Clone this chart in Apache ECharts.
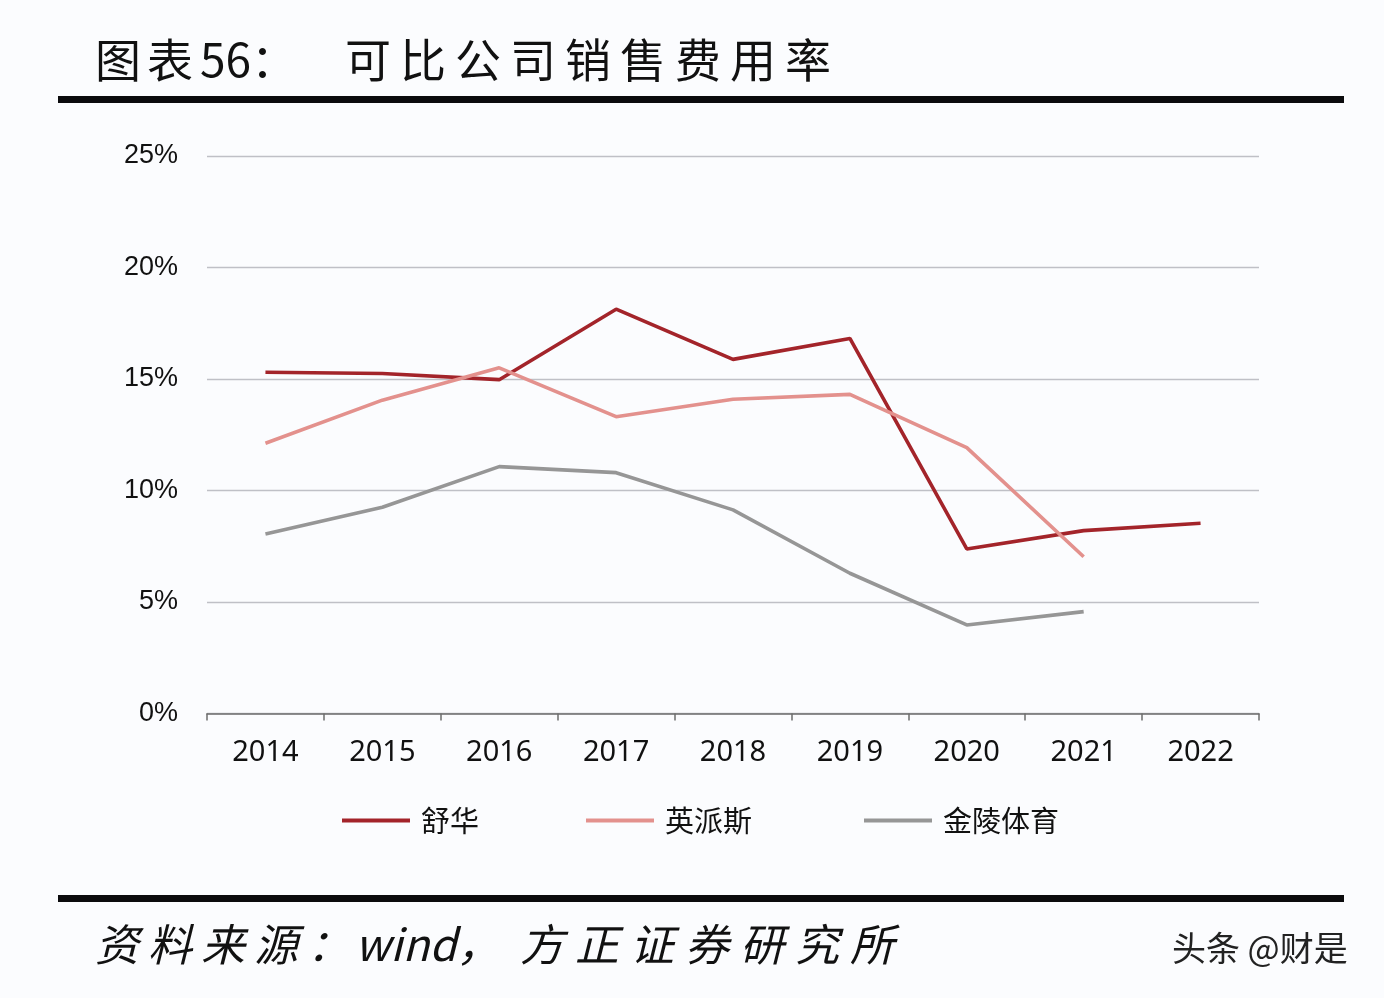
<!DOCTYPE html>
<html><head><meta charset="utf-8">
<script src="https://cdn.jsdelivr.net/npm/echarts@6/dist/echarts.min.js"></script>
<style>html,body{margin:0;padding:0;background:#fbfcfe;}#c{width:1384px;height:998px;}</style>
</head><body><div id="c"></div>
<script>
const categories = ['2014','2015','2016','2017','2018','2019','2020','2021','2022'];
const shuhua = [15.3, 15.25, 14.97, 18.13, 15.88, 16.82, 7.38, 8.2, 8.53];
const yingpaisi = [12.12, 14.05, 15.5, 13.31, 14.09, 14.31, 11.92, 7.03, null];
const jinling = [8.05, 9.25, 11.07, 10.8, 9.13, 6.29, 3.97, 4.57, null];
const yTicks = [0, 5, 10, 15, 20, 25];
const seriesNames = ['舒华', '英派斯', '金陵体育'];
const colors = ['#a3242a', '#e3918d', '#969696'];

const chart = echarts.init(document.getElementById('c'));
const cjk = '"Noto Sans CJK SC", sans-serif';
function mkLegend(i, left) {
  return {
    data: [seriesNames[i]], left: left, top: 806, padding: 0, icon: 'rect',
    itemWidth: 68, itemHeight: 4, itemGap: 0,
    textStyle: { fontFamily: cjk, fontSize: 29, color: '#111', padding: [0,0,0,6] }
  };
}
// spaced text helper: places characters one by one with a fixed pitch
function spaced(str, x, y, pitch, font, fill) {
  return str.split('').map((ch, k) => ({
    type: 'text', left: x + k * pitch, top: y, silent: true,
    style: { text: ch, font: font, fill: fill }
  }));
}
const titleFont = '46px "Noto Sans CJK SC"';
const srcFont = 'italic 44px "Noto Sans CJK SC"';
const graphics = [].concat(
  spaced('图表', 95, 37, 52, titleFont, '#111'),
  [{ type: 'text', left: 200, top: 37, style: { text: '56：', font: titleFont, fill: '#111' } }],
  spaced('可比公司销售费用率', 345, 37, 55, titleFont, '#111'),
  [
    { type: 'rect', shape: { x: 58, y: 96, width: 1286, height: 7 }, style: { fill: '#0b0b0d' } },
    { type: 'rect', shape: { x: 58, y: 895, width: 1286, height: 7 }, style: { fill: '#0b0b0d' } }
  ],
  spaced('资料来源：', 95, 922, 53, srcFont, '#111'),
  [{ type: 'text', left: 355, top: 922, style: { text: 'wind，', font: srcFont, fill: '#111' } }],
  spaced('方正证券研究所', 520, 922, 55, srcFont, '#111'),
  [{ type: 'text', left: 1172, top: 931, style: { text: '头条 @财是', font: '34px "Noto Sans CJK SC"', fill: '#222' } }]
);
chart.setOption({
  backgroundColor: '#fbfcfe',
  animation: false,
  grid: { left: 207, right: 125, top: 156, bottom: 284.5, containLabel: false },
  legend: [mkLegend(0, 342), mkLegend(1, 586), mkLegend(2, 864)],
  xAxis: {
    type: 'category', data: categories, boundaryGap: true,
    axisLine: { lineStyle: { color: '#6e6e6e', width: 1.5 } },
    axisTick: { show: true, length: 7, lineStyle: { color: '#6e6e6e', width: 1.5 } },
    axisLabel: { fontFamily: '"Noto Sans", sans-serif', fontSize: 29, color: '#111', margin: 25 }
  },
  yAxis: {
    type: 'value', min: yTicks[0], max: yTicks[yTicks.length-1], interval: 5,
    axisLine: { show: false }, axisTick: { show: false },
    splitLine: { lineStyle: { color: '#bfc0c6', width: 1.3 } },
    axisLabel: { formatter: v => v + '%', fontFamily: '"Liberation Sans", Arial, sans-serif', fontSize: 27, color: '#111', margin: 29, verticalAlign: 'middle', padding: [3,0,0,0] }
  },
  series: [shuhua, yingpaisi, jinling].map((d, i) => ({
    name: seriesNames[i], type: 'line', data: d, symbol: 'none',
    lineStyle: { color: colors[i], width: 3.6 }, itemStyle: { color: colors[i] }
  })),
  graphic: graphics
});
</script></body></html>
